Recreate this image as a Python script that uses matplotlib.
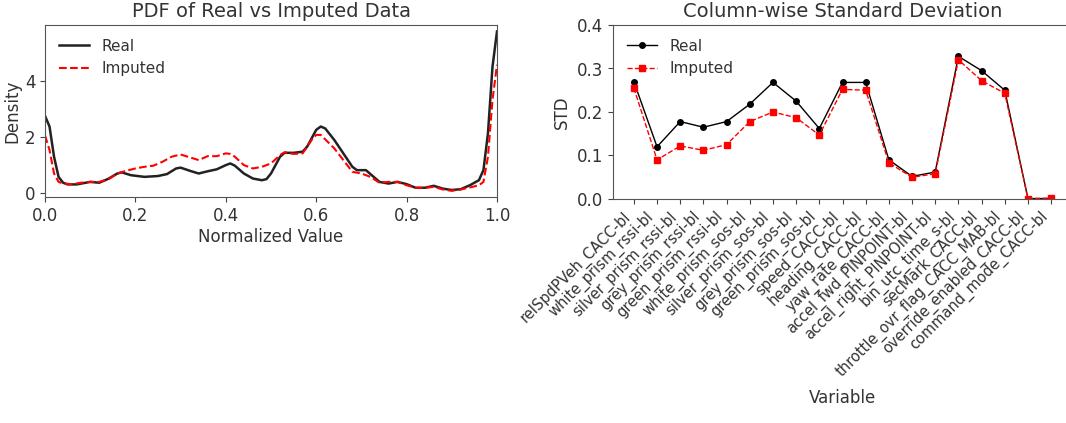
import matplotlib
matplotlib.use("Agg")
import matplotlib.pyplot as plt

# ---- Left panel: PDF ----
pdf_x = [0.0, 0.01, 0.02, 0.03, 0.04, 0.05, 0.07, 0.10, 0.12, 0.14, 0.16, 0.17, 0.19,
         0.22, 0.25, 0.27, 0.29, 0.30, 0.32, 0.34, 0.36, 0.38, 0.40, 0.41, 0.42, 0.44,
         0.46, 0.48, 0.49, 0.50, 0.52, 0.53, 0.55, 0.57, 0.58, 0.60, 0.61, 0.62, 0.64,
         0.66, 0.68, 0.69, 0.71, 0.72, 0.74, 0.76, 0.78, 0.80, 0.82, 0.84, 0.86, 0.88,
         0.90, 0.92, 0.94, 0.96, 0.97, 0.98, 0.99, 1.0]
pdf_real = [2.75, 2.37, 1.29, 0.57, 0.36, 0.30, 0.30, 0.39, 0.36, 0.50, 0.69, 0.73, 0.63,
            0.57, 0.60, 0.67, 0.87, 0.90, 0.79, 0.69, 0.77, 0.84, 0.99, 1.05, 0.97, 0.69,
            0.51, 0.45, 0.49, 0.69, 1.29, 1.43, 1.43, 1.47, 1.65, 2.25, 2.37, 2.30, 1.89,
            1.41, 0.93, 0.81, 0.81, 0.67, 0.39, 0.33, 0.39, 0.31, 0.18, 0.18, 0.25, 0.15,
            0.10, 0.13, 0.27, 0.45, 0.81, 2.13, 4.50, 5.77]

imp_x = [0.0, 0.01, 0.02, 0.03, 0.04, 0.06, 0.08, 0.10, 0.12, 0.14, 0.16, 0.18, 0.20,
         0.22, 0.24, 0.26, 0.28, 0.30, 0.32, 0.34, 0.36, 0.38, 0.40, 0.41, 0.42, 0.44,
         0.46, 0.48, 0.50, 0.52, 0.53, 0.55, 0.57, 0.59, 0.60, 0.61, 0.62, 0.64, 0.66,
         0.68, 0.70, 0.72, 0.74, 0.76, 0.78, 0.80, 0.82, 0.84, 0.86, 0.88, 0.90, 0.92,
         0.94, 0.96, 0.97, 0.98, 0.99, 1.0]
pdf_imp = [2.05, 1.53, 0.69, 0.39, 0.33, 0.31, 0.36, 0.39, 0.39, 0.48, 0.69, 0.79, 0.87,
           0.93, 0.97, 1.11, 1.29, 1.37, 1.27, 1.17, 1.31, 1.31, 1.41, 1.39, 1.29, 0.99,
           0.87, 0.93, 1.05, 1.35, 1.45, 1.39, 1.41, 1.89, 2.07, 2.07, 1.91, 1.59, 1.17,
           0.75, 0.69, 0.57, 0.36, 0.39, 0.39, 0.27, 0.18, 0.18, 0.21, 0.12, 0.07, 0.12,
           0.19, 0.27, 0.39, 1.29, 3.32, 4.58]

# ---- Right panel: column-wise std ----
variables = ["relSpdPVeh_CACC-bl", "white_prism_rssi-bl", "silver_prism_rssi-bl",
             "grey_prism_rssi-bl", "green_prism_rssi-bl", "white_prism_sos-bl",
             "silver_prism_sos-bl", "grey_prism_sos-bl", "green_prism_sos-bl",
             "speed_CACC-bl", "heading_CACC-bl", "yaw_rate_CACC-bl",
             "accel_fwd_PINPOINT-bl", "accel_right_PINPOINT-bl", "bin_utc_time_s-bl",
             "secMark_CACC-bl", "throttle_ovr_flag_CACC_MAB-bl",
             "override_enabled_CACC-bl", "command_mode_CACC-bl"]
std_real = [0.270, 0.120, 0.178, 0.165, 0.178, 0.218, 0.268, 0.225, 0.162, 0.268,
            0.268, 0.090, 0.052, 0.062, 0.328, 0.295, 0.250, 0.001, 0.001]
std_imp = [0.255, 0.090, 0.122, 0.112, 0.125, 0.178, 0.200, 0.187, 0.147, 0.252,
           0.250, 0.083, 0.050, 0.058, 0.320, 0.272, 0.243, 0.001, 0.002]

plt.rcParams["text.color"] = "#333333"
plt.rcParams["axes.labelcolor"] = "#333333"
plt.rcParams["xtick.color"] = "#444444"
plt.rcParams["ytick.color"] = "#444444"
plt.rcParams["xtick.labelcolor"] = "#333333"
plt.rcParams["ytick.labelcolor"] = "#333333"
plt.rcParams["axes.edgecolor"] = "#555555"

W, H = 1066, 423
fig = plt.figure(figsize=(W / 100, H / 100), dpi=100)

ax1 = fig.add_axes([45 / W, 1 - 197 / H, 452 / W, 172 / H])
ax1.plot(pdf_x, pdf_real, color="#222222", lw=1.8, label="Real")
ax1.plot(imp_x, pdf_imp, color="red", lw=1.5, ls="--", label="Imputed")
ax1.set_xlim(0, 1)
ax1.set_ylim(-0.15, 6.0)
ax1.set_yticks([0, 2, 4])
ax1.set_title("PDF of Real vs Imputed Data", fontsize=14)
ax1.set_xlabel("Normalized Value", fontsize=12, labelpad=2)
ax1.set_ylabel("Density", fontsize=12, labelpad=2)
ax1.tick_params(labelsize=12)
ax1.legend(loc="upper left", frameon=False, fontsize=11)

ax2 = fig.add_axes([613 / W, 1 - 199 / H, 459 / W, 174 / H])
xs = list(range(len(variables)))
ax2.plot(xs, std_real, "k-o", lw=1, ms=4, label="Real")
ax2.plot(xs, std_imp, "r--s", lw=1, ms=4, label="Imputed")
ax2.set_ylim(0, 0.4)
ax2.set_yticks([0.0, 0.1, 0.2, 0.3, 0.4])
ax2.set_xticks(xs)
ax2.set_xticklabels(variables, rotation=45, ha="right", fontsize=10.5)
ax2.tick_params(axis="y", labelsize=12)
ax2.set_title("Column-wise Standard Deviation", fontsize=14)
ax2.set_xlabel("Variable", fontsize=12, labelpad=6)
ax2.set_ylabel("STD", fontsize=12)
ax2.legend(loc="upper left", frameon=False, fontsize=11)

fig.savefig("out.png", dpi=100)
